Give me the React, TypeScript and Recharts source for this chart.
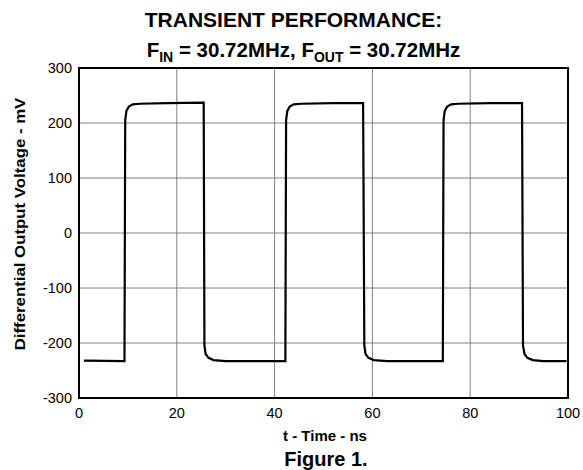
import * as React from "react";
import {
  CartesianGrid,
  Line,
  LineChart,
  ReferenceArea,
  XAxis,
  YAxis,
} from "recharts";

// scope trace: time (ns) and differential output (mV)
const timeNs = [
  1.0, 9.3, 9.45, 9.7, 10.2, 11.0, 12.5, 18.0, 25.5,
  25.65, 25.9, 26.5, 27.5, 30.0, 42.2,
  42.35, 42.6, 43.1, 43.9, 45.5, 52.0, 58.1,
  58.35, 58.6, 59.2, 60.3, 63.0, 74.4,
  74.55, 74.8, 75.3, 76.1, 77.5, 84.0, 90.6,
  90.8, 91.1, 91.7, 92.8, 95.0, 99.7,
];
const outputMv = [
  -232, -233, 205, 222, 230, 234, 235, 236, 237,
  -205, -220, -227, -231, -233, -233,
  205, 222, 230, 234, 235, 236, 236,
  -205, -220, -227, -231, -233, -233,
  205, 222, 230, 234, 235, 236, 236,
  -205, -220, -227, -231, -233, -233,
];

const xTicks = [0, 20, 40, 60, 80, 100];
const yTicks = [-300, -200, -100, 0, 100, 200, 300];

const data = timeNs.map((t, i) => ({ t, v: outputMv[i] }));

const FONT = '"Liberation Sans", Arial, Helvetica, sans-serif';
const tickStyle = { fill: "#000", fontSize: 14.5, fontFamily: FONT };

export default function App() {
  return (
    <div
      style={{
        position: "absolute",
        left: 0,
        top: 0,
        width: 583,
        height: 470,
        background: "#fff",
        fontFamily: FONT,
        color: "#000",
      }}
    >
      <div
        style={{
          position: "absolute",
          left: 0,
          width: 587,
          top: 5,
          textAlign: "center",
          fontWeight: "bold",
          fontSize: 21,
          lineHeight: "30px",
          whiteSpace: "nowrap",
        }}
      >
        TRANSIENT PERFORMANCE:
      </div>
      <div
        style={{
          position: "absolute",
          left: 0,
          width: 607,
          top: 35,
          textAlign: "center",
          fontWeight: "bold",
          fontSize: 20.5,
          lineHeight: "30px",
          whiteSpace: "nowrap",
        }}
      >
        F<sub style={{ fontSize: 14, lineHeight: 0 }}>IN</sub> = 30.72MHz, F
        <sub style={{ fontSize: 14, lineHeight: 0 }}>OUT</sub> = 30.72MHz
      </div>

      <LineChart
        width={583}
        height={470}
        data={data}
        margin={{ top: 68, right: 15, bottom: 42, left: 39 }}
        style={{ position: "absolute", left: 0, top: 0 }}
      >
        <CartesianGrid stroke="#808080" strokeWidth={1} />
        <XAxis
          dataKey="t"
          type="number"
          domain={[0, 100]}
          ticks={xTicks}
          height={30}
          axisLine={false}
          tickLine={false}
          tickMargin={4}
          tick={tickStyle}
          interval={0}
        />
        <YAxis
          type="number"
          domain={[-300, 300]}
          ticks={yTicks}
          width={40}
          axisLine={false}
          tickLine={false}
          tickMargin={1}
          tick={tickStyle}
          interval={0}
        />
        <ReferenceArea
          x1={0}
          x2={100}
          y1={-300}
          y2={300}
          fill="none"
          stroke="#000"
          strokeWidth={2}
          ifOverflow="visible"
        />
        <Line
          dataKey="v"
          type="linear"
          stroke="#000"
          strokeWidth={2.2}
          dot={false}
          isAnimationActive={false}
        />
      </LineChart>

      <div
        style={{
          position: "absolute",
          left: 19,
          top: 224,
          transform: "translate(-50%, -50%) rotate(-90deg) scaleX(1.12)",
          whiteSpace: "nowrap",
          fontWeight: "bold",
          fontSize: 15,
        }}
      >
        Differential Output Voltage - mV
      </div>
      <div
        style={{
          position: "absolute",
          left: 79,
          width: 492,
          top: 428,
          textAlign: "center",
          fontWeight: "bold",
          fontSize: 15,
          lineHeight: "15px",
        }}
      >
        t - Time - ns
      </div>
      <div
        style={{
          position: "absolute",
          left: 79,
          width: 494,
          top: 449,
          textAlign: "center",
          fontWeight: "bold",
          fontSize: 20,
          lineHeight: "20px",
        }}
      >
        Figure 1.
      </div>
    </div>
  );
}
